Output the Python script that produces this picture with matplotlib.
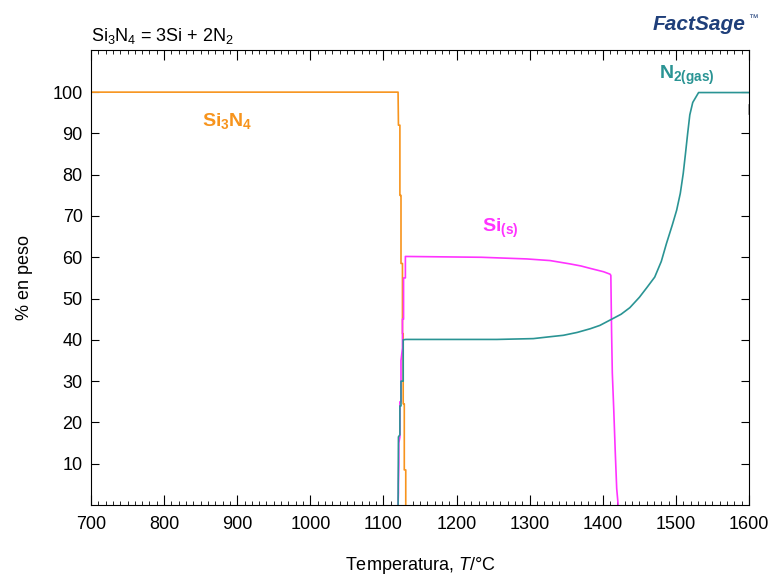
import matplotlib.pyplot as plt
from matplotlib.ticker import MultipleLocator

plt.rcParams['font.family'] = ['Liberation Sans', 'DejaVu Sans']
plt.rcParams['mathtext.fontset'] = 'custom'
plt.rcParams['mathtext.rm'] = 'Liberation Sans'
plt.rcParams['mathtext.it'] = 'Liberation Sans:italic'
plt.rcParams['mathtext.bf'] = 'Liberation Sans:bold'

# Si3N4 (naranja)
t_si3n4 = [700, 1120, 1120.5, 1122.5, 1122.5, 1124, 1124, 1126, 1126, 1127, 1127, 1128.5, 1128.5, 1130.5, 1130.5]
w_si3n4 = [100, 100, 92, 92, 75, 75, 58.5, 58.5, 41.5, 41.5, 24.5, 24.5, 8.5, 8.5, 0]

# Si(s) (magenta)
t_si = [1120, 1120.5, 1120.5, 1121, 1121, 1122.5, 1122.5, 1124, 1124, 1126, 1126, 1127.5, 1127.5, 1130, 1130,
        1234, 1296, 1328, 1355, 1370, 1383, 1401, 1410, 1411, 1412, 1413, 1415, 1417, 1419, 1421]
w_si = [0, 3, 5, 10, 15, 16.5, 25, 25, 35, 38, 45, 45, 55, 55, 60.2,
        60.0, 59.6, 59.2, 58.4, 57.9, 57.3, 56.5, 55.9, 55.6, 42, 32, 23, 13, 4, 0]

# N2(gas) (verde azulado)
t_n2 = [1120, 1120.5, 1122.5, 1122.5, 1124, 1124, 1127, 1127, 1130.5, 1255, 1305, 1325, 1346, 1365, 1383, 1396,
        1410, 1425, 1437, 1450, 1460, 1471, 1480, 1487, 1495, 1501, 1506, 1510, 1513, 1516, 1519, 1523, 1531, 1600]
w_n2 = [0, 16.5, 17, 24, 24, 30, 30, 40, 40.1, 40.1, 40.3, 40.7, 41.1, 41.8, 42.7, 43.5,
        44.8, 46.2, 47.8, 50.3, 52.6, 55.2, 59.0, 63.3, 67.8, 71.4, 75.5, 80.3, 85.0, 89.9, 94.5, 97.5, 99.9, 99.9]

c_orange = '#F7941D'
c_mag = '#FF33FF'
c_teal = '#2A9494'

fig = plt.figure(figsize=(7.73, 5.77), dpi=100)
ax = fig.add_axes([0.1177, 0.1248, 0.8513, 0.7885])

ax.plot(t_si3n4, w_si3n4, color=c_orange, lw=1.2)
ax.plot(t_si, w_si, color=c_mag, lw=1.2)
ax.plot(t_n2, w_n2, color=c_teal, lw=1.2)
ax.plot([1599.6, 1599.6], [94.8, 97], color='#999999', lw=1.2)

ax.text(887, 93, r'$\mathbf{Si_3N_4}$', color=c_orange, fontsize=14, ha='center', va='center')
ax.text(1260, 67, r'$\mathbf{Si_{(s)}}$', color=c_mag, fontsize=14, ha='center', va='center')
ax.text(1515, 104, r'$\mathbf{N_{2(gas)}}$', color=c_teal, fontsize=14, ha='center', va='center')

ax.set_xlim(700, 1600)
ax.set_ylim(0, 110.2)
ax.xaxis.set_major_locator(MultipleLocator(100))
ax.xaxis.set_minor_locator(MultipleLocator(10))
ax.set_yticks(range(10, 101, 10))
ax.tick_params(axis='both', which='both', direction='in', top=True, right=True, labelsize=13)
ax.tick_params(axis='x', which='major', length=7, pad=8)
ax.tick_params(axis='x', which='minor', length=3)
ax.tick_params(axis='y', which='major', length=6, pad=6)

ax.set_xlabel('Temperatura, $T$/°C', fontsize=13, labelpad=16)
ax.set_ylabel('% en peso', fontsize=13, labelpad=14)

fig.text(0.1177, 0.937, r'Si$_3$N$_4$ = 3Si + 2N$_2$', fontsize=13, ha='left', va='center')
fig.text(0.965, 0.958, 'FactSage', fontsize=15, fontweight='bold', style='italic',
         color='#1F3F7A', ha='right', va='center')
fig.text(0.968, 0.968, '™', fontsize=7, color='#1F3F7A', ha='left', va='center')

fig.savefig('out.png', dpi=100)
